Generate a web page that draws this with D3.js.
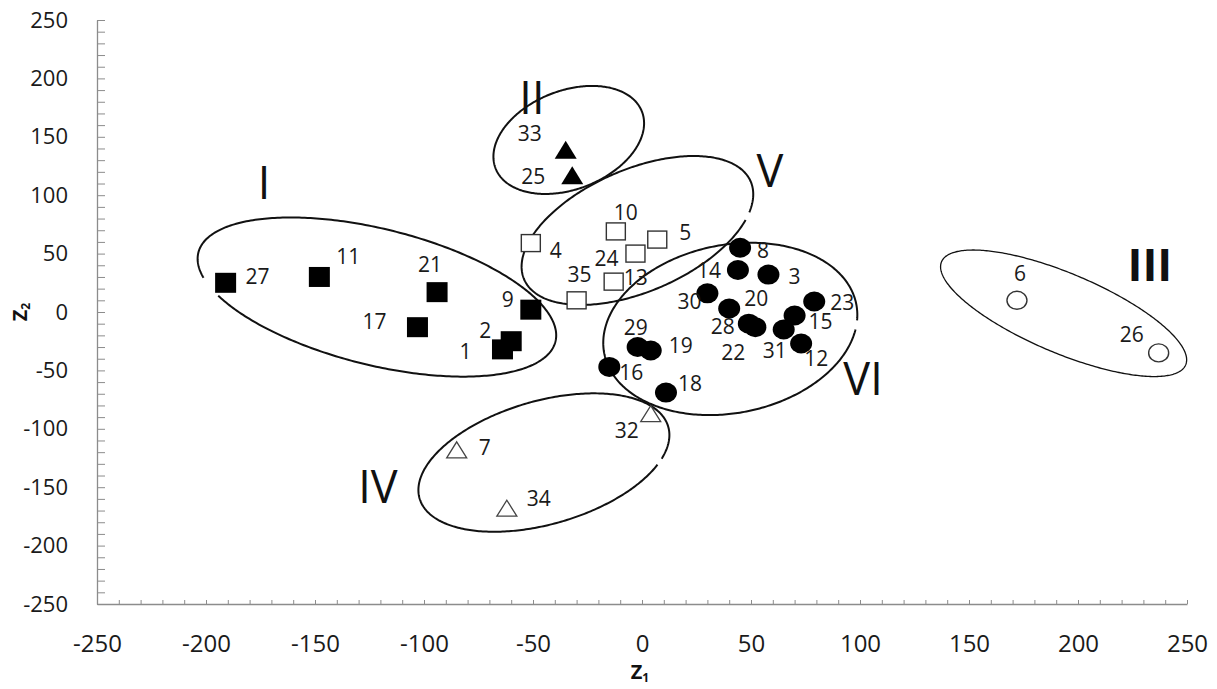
<!DOCTYPE html>
<html>
<head>
<meta charset="utf-8">
<script src="https://cdn.jsdelivr.net/npm/d3@7"></script>
<style>
  html, body { margin: 0; padding: 0; background: #ffffff; }
  svg { display: block; font-family: "Open Sans", "Noto Sans", sans-serif; }
</style>
</head>
<body>
<svg id="chart" width="1217" height="689"></svg>
<script>
// ---------------- DATA ----------------
const xTickValues = [-250, -200, -150, -100, -50, 0, 50, 100, 150, 200, 250];
const yTickValues = [-250, -200, -150, -100, -50, 0, 50, 100, 150, 200, 250];

// Cluster I (filled squares)
const idsI = [27, 11, 21, 17, 9, 2, 1];
const z1I  = [-191, -148, -94, -103, -51, -60, -64];
const z2I  = [25, 30, 17, -13, 2, -25, -32];
// Cluster II (filled triangles)
const idsII = [33, 25];
const z1II  = [-35, -32];
const z2II  = [139, 117];
// Cluster III (open circles)
const idsIII = [6, 26];
const z1III  = [172, 237];
const z2III  = [10, -35];
// Cluster IV (open triangles)
const idsIV = [32, 7, 34];
const z1IV  = [4, -85, -62];
const z2IV  = [-87, -118, -168];
// Cluster V (open squares)
const idsV = [10, 5, 24, 13, 4, 35];
const z1V  = [-12, 7, -3, -13, -51, -30];
const z2V  = [69, 62, 50, 26, 59, 10];
// Cluster VI (filled circles)
const idsVI = [8, 14, 3, 30, 20, 23, 15, 28, 22, 31, 12, 29, 19, 16, 18];
const z1VI  = [45, 44, 58, 30, 40, 79, 70, 49, 52, 65, 73, -2, 4, -15, 11];
const z2VI  = [55, 36, 32, 16, 3, 9, -3, -10, -13, -15, -27, -30, -33, -47, -69];

const clusterNames = ["I", "II", "III", "IV", "V", "VI"];

// ---------------- LAYOUT / STYLE ----------------
const W = 1217, H = 689;
const x = d3.scaleLinear().domain([-250, 250]).range([97, 1187]);
const y = d3.scaleLinear().domain([-250, 250]).range([604, 20]);

// label offsets (px) for point numbers
const labelOffset = {
  27:[32,-6], 11:[29,-21], 21:[-7,-28], 17:[-43,-6], 9:[-23,-10], 2:[-26,-11], 1:[-37,2],
  33:[-36,-16], 25:[-39,1],
  10:[10,-19], 5:[28,-7], 24:[-29,5], 13:[22,-4], 4:[25,7], 35:[3,-26],
  8:[23,3], 14:[-29,0], 3:[26,2], 30:[-18,8], 20:[27,-10], 23:[28,1], 15:[26,6],
  28:[-26,3], 22:[-22,25], 31:[-9,21], 12:[15,15], 29:[-2,-20], 19:[30,-5], 16:[22,6], 18:[24,-9],
  32:[-24,17], 7:[28,-2], 34:[32,-10],
  6:[3,-27], 26:[-27,-18]
};

// cluster ellipse annotations: centre in data units, semi-axes in px, rotation deg, gap (param deg)
const ellipses = [
  {c:[-121.6, 12.8], a:184, b:68, rot:14, gap:[147,160], w:2},
  {c:[-33.6, 147.3], a:78.5, b:49.3, rot:-21.2, gap:null, w:2},
  {c:[193.4, -1.1], a:132.5, b:39.8, rot:22.9, gap:null, w:1.3},
  {c:[-45, -128.9], a:129.4, b:61.6, rot:-16.1, gap:[28,33], w:2},
  {c:[-2.1, 69.8], a:123.4, b:61.1, rot:-23.4, gap:[27,33], w:2},
  {c:[40.5, -14.5], a:128.4, b:84.1, rot:-11.1, gap:[11,17], w:2}
];
// roman numeral anchor (data units)
const romanPos = [[-173.4,110.4],[-50.5,183.5],[233,40.2],[-121.1,-149.8],[58.7,120.7],[101.4,-57.4]];

const svg = d3.select("#chart");

// ---------------- AXES ----------------
const axisColor = "#8c8c8c";
const minorX = d3.range(-250, 251, 10);
const minorY = d3.range(-250, 251, 10);

const gxMinor = svg.append("g").attr("transform", `translate(0,${y(-250)})`)
  .call(d3.axisBottom(x).tickValues(minorX).tickSizeInner(-4).tickSizeOuter(0).tickFormat(""));
const gyMinor = svg.append("g").attr("transform", `translate(${x(-250)},0)`)
  .call(d3.axisLeft(y).tickValues(minorY).tickSizeInner(-8).tickSizeOuter(0).tickFormat(""));
[gxMinor, gyMinor].forEach(g => {
  g.selectAll("path.domain").attr("stroke", axisColor).attr("stroke-width", 1.3);
  g.selectAll(".tick line").attr("stroke", axisColor).attr("stroke-width", 1);
});

const fmt = d => String(d);
const gxLab = svg.append("g").attr("transform", `translate(0,${y(-250)})`)
  .call(d3.axisBottom(x).tickValues(xTickValues).tickSize(0).tickPadding(31).tickFormat(fmt));
gxLab.select("path.domain").remove();
gxLab.selectAll("text").attr("font-size", 24).attr("fill", "#1a1a1a")
  .attr("font-family", "'Open Sans', sans-serif");

const gyLab = svg.append("g").attr("transform", `translate(${x(-250)},0)`)
  .call(d3.axisLeft(y).tickValues(yTickValues).tickSize(0).tickPadding(29).tickFormat(fmt));
gyLab.select("path.domain").remove();
gyLab.selectAll("text").attr("font-size", 22).attr("fill", "#1a1a1a")
  .attr("font-family", "'Open Sans', sans-serif");

// axis titles
const t1 = svg.append("text").attr("x", 640).attr("y", 679).attr("text-anchor", "middle")
  .attr("font-size", 20).attr("font-weight", "bold").attr("fill", "#111");
t1.append("tspan").text("Z");
t1.append("tspan").attr("font-size", 12).attr("dy", 3).text("1");

const t2 = svg.append("text").attr("transform", `translate(27,${y(0)}) rotate(-90)`)
  .attr("text-anchor", "middle").attr("font-size", 20).attr("font-weight", "bold").attr("fill", "#111");
t2.append("tspan").text("Z");
t2.append("tspan").attr("font-size", 12).attr("dy", 3).text("2");

// ---------------- ELLIPSES ----------------
function ellipsePoints(e) {
  const cx = x(e.c[0]), cy = y(e.c[1]);
  const r = e.rot * Math.PI / 180, cr = Math.cos(r), sr = Math.sin(r);
  let t0 = 0, t1 = 360;
  if (e.gap) { t0 = e.gap[1]; t1 = e.gap[0] + 360; }
  return d3.range(t0, t1 + 0.001, 1).map(td => {
    const t = td * Math.PI / 180;
    const lx = e.a * Math.cos(t), ly = e.b * Math.sin(t);
    return [cx + lx * cr - ly * sr, cy + lx * sr + ly * cr];
  });
}
const line = d3.line();
svg.append("g").selectAll("path").data(ellipses).join("path")
  .attr("d", e => line(ellipsePoints(e)) + (e.gap ? "" : "Z"))
  .attr("fill", "none").attr("stroke", "#111").attr("stroke-width", e => e.w);

// roman numerals
svg.append("g").selectAll("text").data(clusterNames).join("text")
  .attr("x", (d, i) => x(romanPos[i][0]))
  .attr("y", (d, i) => y(romanPos[i][1]))
  .attr("dy", "0.36em")
  .attr("text-anchor", "middle")
  .attr("font-size", 45)
  .attr("font-weight", d => d === "III" ? 700 : 400)
  .attr("fill", "#111")
  .text(d => d);

// ---------------- POINTS ----------------
function toPts(ids, z1, z2) { return ids.map((id, i) => ({id, z1: z1[i], z2: z2[i]})); }
const ptsI = toPts(idsI, z1I, z2I);
const ptsII = toPts(idsII, z1II, z2II);
const ptsIII = toPts(idsIII, z1III, z2III);
const ptsIV = toPts(idsIV, z1IV, z2IV);
const ptsV = toPts(idsV, z1V, z2V);
const ptsVI = toPts(idsVI, z1VI, z2VI);

const gp = svg.append("g");
gp.append("g").selectAll("rect").data(ptsI).join("rect")
  .attr("x", d => x(d.z1) - 10.5).attr("y", d => y(d.z2) - 10)
  .attr("width", 21).attr("height", 20).attr("fill", "#000");
gp.append("g").selectAll("rect").data(ptsV).join("rect")
  .attr("x", d => x(d.z1) - 9.5).attr("y", d => y(d.z2) - 8.5)
  .attr("width", 19).attr("height", 17).attr("fill", "#fff")
  .attr("stroke", "#333").attr("stroke-width", 1.4);
const tri = (w, h) => `M0,${-h/2}L${w/2},${h/2}L${-w/2},${h/2}Z`;
gp.append("g").selectAll("path").data(ptsII).join("path")
  .attr("transform", d => `translate(${x(d.z1)},${y(d.z2)})`)
  .attr("d", tri(22, 18)).attr("fill", "#000");
gp.append("g").selectAll("path").data(ptsIV).join("path")
  .attr("transform", d => `translate(${x(d.z1)},${y(d.z2)})`)
  .attr("d", tri(20, 16)).attr("fill", "#fff").attr("stroke", "#444").attr("stroke-width", 1.3);
gp.append("g").selectAll("ellipse").data(ptsVI).join("ellipse")
  .attr("cx", d => x(d.z1)).attr("cy", d => y(d.z2))
  .attr("rx", 11).attr("ry", 10).attr("fill", "#000");
gp.append("g").selectAll("ellipse").data(ptsIII).join("ellipse")
  .attr("cx", d => x(d.z1)).attr("cy", d => y(d.z2))
  .attr("rx", 10).attr("ry", 9).attr("fill", "#fff")
  .attr("stroke", "#333").attr("stroke-width", 1.4);

// point labels
const allPts = [].concat(ptsI, ptsII, ptsIII, ptsIV, ptsV, ptsVI);
svg.append("g").selectAll("text").data(allPts).join("text")
  .attr("x", d => x(d.z1) + labelOffset[d.id][0])
  .attr("y", d => y(d.z2) + labelOffset[d.id][1])
  .attr("dy", "0.36em")
  .attr("text-anchor", "middle")
  .attr("font-size", 21)
  .attr("fill", "#1a1a1a")
  .text(d => d.id);
</script>
</body>
</html>
